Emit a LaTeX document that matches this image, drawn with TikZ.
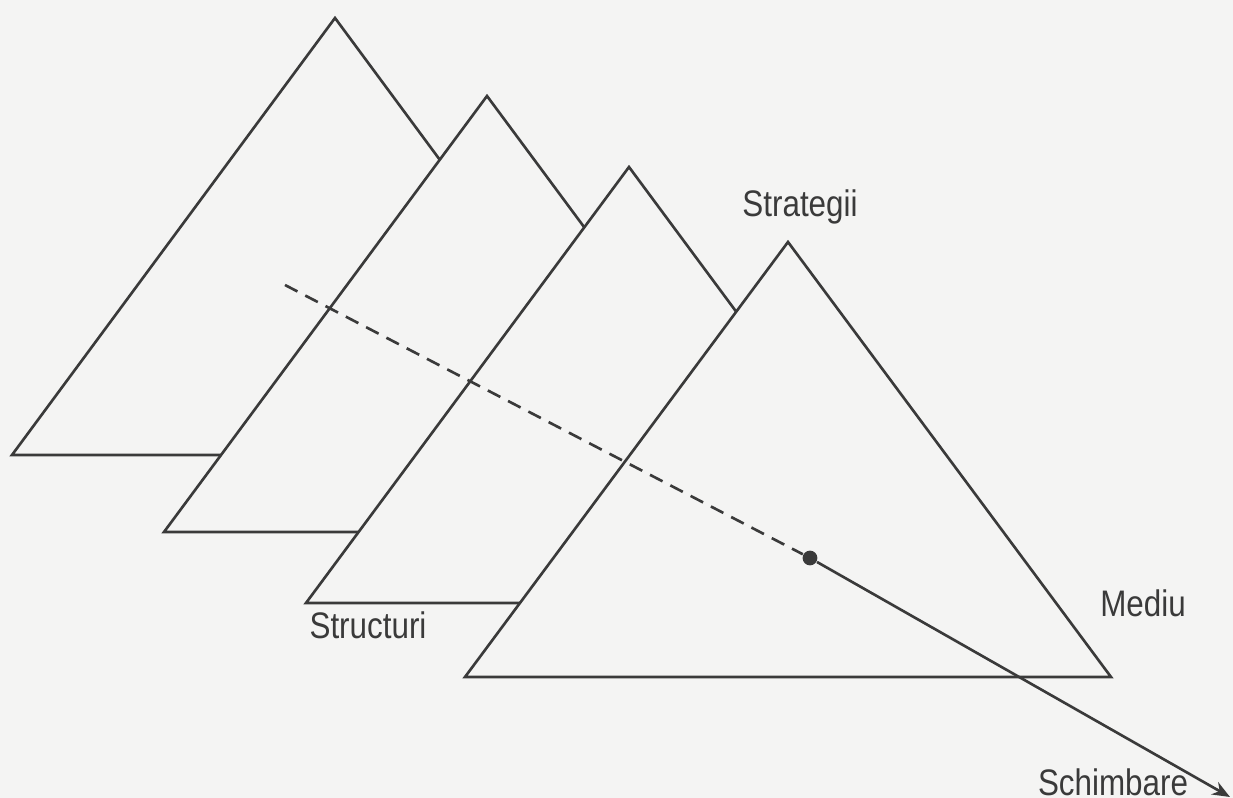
\documentclass[tikz,border=0pt]{standalone}
\usepackage{fontspec}
\setmainfont[FakeStretch=0.85]{Liberation Sans}
\usetikzlibrary{arrows.meta}
\definecolor{paper}{HTML}{F4F4F3}
\definecolor{ink}{HTML}{3A3A3A}
\begin{document}
\begin{tikzpicture}[x=0.01cm, y=-0.01cm,
    tri/.style={draw=ink, fill=paper, line width=0.75pt},
    lbl/.style={font=\fontsize{10.5}{12}\selectfont, text=ink, inner sep=0pt},
    trend/.style={draw=ink, line width=0.75pt},
    dot/.style={circle, fill=ink, minimum size=4.2pt, inner sep=0pt}
  ]
    \useasboundingbox (0,0) rectangle (1233,798);
    \fill[paper] (0,0) rectangle (1233,798);

    % Triunghiuri
    \filldraw[tri] (335,18) -- ++(-323,437) -- ++(646,0) -- cycle;
    \filldraw[tri] (487,96) -- ++(-323,436) -- ++(646,0) -- cycle;
    \filldraw[tri] (629,167) -- ++(-323,436) -- ++(646,0) -- cycle;
    \filldraw[tri] (788,242) -- ++(-323,435) -- ++(646,0) -- cycle;

    % Etichete
    \node[lbl] (strat) at (800,207) {Strategii};
    \node[lbl] (struct) at (368,625) {Structuri};
    \node[lbl] (mediu) at (1143,603) {Mediu};
    \node[lbl] (schimb) at (1113,782) {Schimbare};

    % Directia schimbarii
    \coordinate (start) at (285,285);
    \node[dot] (now) at (810,558) {};
    \coordinate (tip) at (1230,797);
    \draw[trend, dash pattern=on 4pt off 2.5pt] (start) -- (now);
    \draw[trend, -{Stealth[length=5pt, width=4pt]}] (now) -- (tip);
\end{tikzpicture}
\end{document}
